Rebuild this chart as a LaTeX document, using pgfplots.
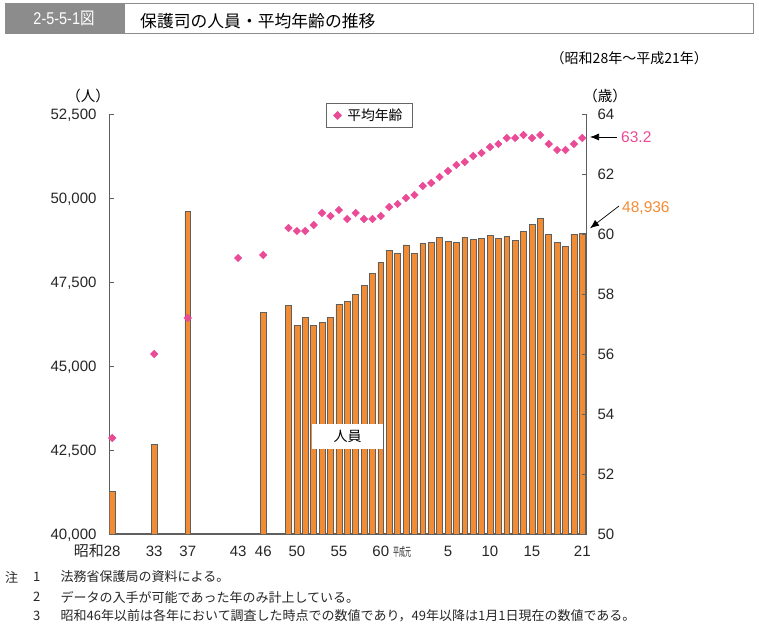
\documentclass[border=0pt]{standalone}
\usepackage{graphicx}
\usepackage{fontspec}
\setmainfont{Liberation Sans}
\newfontfamily\jp{Noto Sans CJK JP}
\usepackage{pgfplots}
\pgfplotsset{compat=1.18}
\usepackage{pgfplotstable}
\usetikzlibrary{arrows.meta}
\definecolor{barorange}{RGB}{242,140,52}
\definecolor{agepink}{RGB}{233,75,150}
\definecolor{axisgray}{RGB}{95,95,95}
\definecolor{titlegray}{RGB}{140,140,140}
\pgfplotsset{agelegend/.style={legend image code/.code={\draw[mark repeat=2,mark phase=2,##1] plot coordinates {(0pt,0pt) (4pt,0pt) (8pt,0pt)};}}}

\pgfplotstableread{
year persons
1953 41260
1958 42670
1962 49600
1971 46586
1974 46815
1975 46211
1976 46438
1977 46220
1978 46309
1979 46448
1980 46845
1981 46924
1982 47142
1983 47390
1984 47767
1985 48075
1986 48442
1987 48343
1988 48601
1989 48343
1990 48640
1991 48670
1992 48829
1993 48711
1994 48681
1995 48818
1996 48770
1997 48800
1998 48889
1999 48809
2000 48848
2001 48749
2002 48997
2003 49205
2004 49383
2005 48919
2006 48681
2007 48550
2008 48919
2009 48936
}\persons

\pgfplotstableread{
year age
1953 53.2
1958 56.0
1962 57.2
1968 59.2
1971 59.3
1974 60.2
1975 60.1
1976 60.1
1977 60.3
1978 60.7
1979 60.6
1980 60.8
1981 60.5
1982 60.7
1983 60.5
1984 60.5
1985 60.6
1986 60.9
1987 61.0
1988 61.2
1989 61.3
1990 61.6
1991 61.7
1992 61.9
1993 62.1
1994 62.3
1995 62.4
1996 62.6
1997 62.7
1998 62.9
1999 63.0
2000 63.2
2001 63.2
2002 63.3
2003 63.2
2004 63.3
2005 63.0
2006 62.8
2007 62.8
2008 63.0
2009 63.2
}\ages

\begin{document}
\begin{tikzpicture}
\useasboundingbox (0,0) rectangle (759pt,628pt);

% title bar
\fill[titlegray] (5pt,594.7pt) rectangle (125pt,624.7pt);
\draw[black!45, line width=0.8pt] (5pt,594.7pt) rectangle (753pt,624.7pt);
\node[white, inner sep=0] at (64pt,609.7pt) {\fontsize{17}{20}\selectfont\scalebox{0.85}[1]{2-5-5-1{\jp 図}}};
\node[anchor=west, inner sep=0] at (140pt,607pt) {\jp\fontsize{16.8}{20}\selectfont 保護司の人員・平均年齢の推移};
\node[anchor=east, inner sep=0] at (708pt,570pt) {\jp\fontsize{14}{17}\selectfont （昭和28年～平成21年）};
\node[inner sep=0] at (88pt,532pt) {\jp\fontsize{14.5}{17}\selectfont （人）};
\node[inner sep=0] at (605pt,532pt) {\jp\fontsize{14.5}{17}\selectfont （歳）};

\begin{axis}[
  at={(109.3pt,94pt)}, anchor=south west,
  scale only axis, width=477.4pt, height=420pt,
  xmin=1952.655, xmax=2009.524, ymin=40000, ymax=52500,
  scaled y ticks=false,
  axis x line*=bottom, axis y line*=left,
  axis line style={draw=axisgray, line width=1.1pt},
  xtick={1953,1958,1962,1968,1971,1975,1980,1985,1989,1993,1998,2003,2009},
  xticklabels={{\makebox[0pt][r]{\jp 昭和}28},33,37,43,46,50,55,60,{\makebox[0pt][r]{\jp\fontsize{12}{12}\selectfont\scalebox{0.5}[1]{平成元}\hspace{3.3pt}}},5,10,15,21},
  xtick style={draw=none},
  ytick={40000,42500,45000,47500,50000,52500},
  yticklabels={{40,000},{42,500},{45,000},{47,500},{50,000},{52,500}},
  tick align=inside, major tick length=5pt,
  ytick style={draw=axisgray, line width=0.9pt},
  tick label style={font=\fontsize{15}{18}\selectfont, text=black!85},
  xticklabel style={inner sep=0pt, text height=10.7pt, text depth=0pt, yshift=-11.7pt},
  yticklabel style={inner sep=0pt, text height=10.7pt, text depth=0pt, xshift=-12.6pt},
]
\addplot[ybar, bar width=0.7, fill=barorange, draw=axisgray, line width=0.6pt] table[x=year, y=persons] {\persons};
\end{axis}

\begin{axis}[
  at={(109.3pt,94pt)}, anchor=south west,
  scale only axis, width=477.4pt, height=420pt,
  xmin=1952.655, xmax=2009.524, ymin=50, ymax=64,
  axis x line=none, axis y line*=right,
  axis line style={draw=axisgray, line width=1.1pt},
  ytick={50,52,54,56,58,60,62,64},
  yticklabels={50,52,54,56,58,60,62,64},
  tick align=inside, major tick length=5pt,
  ytick style={draw=axisgray, line width=0.9pt},
  tick label style={font=\fontsize{15}{18}\selectfont, text=black!85},
  yticklabel style={inner sep=0pt, text height=10.7pt, text depth=0pt, xshift=10.6pt},
  legend style={at={(0.4533,1.0256)}, anchor=north west, draw=black!60, line width=0.8pt,
    fill=white, inner xsep=7.6pt, inner ysep=3.2pt, font=\jp\fontsize{13.8}{16}\selectfont,
    nodes={inner xsep=2pt}, cells={anchor=west}},
]
\addplot[only marks, mark=square*, mark size=2.7pt, color=agepink,
  mark options={rotate=45, fill=agepink, draw=agepink}, agelegend]
  table[x=year, y=age] {\ages};
\addlegendentry{\hspace{4pt}平均年齢}
\end{axis}

% label box for persons
\node[fill=white, minimum width=71pt, minimum height=25pt, inner sep=0] at (347.5pt,191.5pt) {\jp\fontsize{14}{16}\selectfont 人員};

% annotations
\draw[-{Latex[length=9pt,width=7pt]}, line width=0.7pt] (617pt,491pt) -- (590pt,491pt);
\node[anchor=west, inner sep=0, text=agepink, text height=11pt, text depth=0pt] at (621pt,491pt) {\fontsize{15.5}{18}\selectfont 63.2};
\draw[-{Latex[length=9pt,width=7pt]}, line width=0.7pt] (619pt,422pt) -- (590pt,399.7pt);
\node[anchor=west, inner sep=0, text=barorange, text height=11pt, text depth=0pt] at (622pt,421pt) {\fontsize{15.5}{18}\selectfont 48,936};

% notes
\begin{scope}[every node/.style={anchor=west, inner sep=0, font=\jp\fontsize{13}{15}\selectfont, text=black!85}]
\node at (5pt,51pt) {注};
\node at (33pt,51pt) {1};
\node at (60.5pt,51pt) {法務省保護局の資料による。};
\node at (33pt,31pt) {2};
\node at (60.5pt,31pt) {データの入手が可能であった年のみ計上している。};
\node at (33pt,12pt) {3};
\node at (60.5pt,12pt) {昭和46年以前は各年において調査した時点での数値であり，49年以降は1月1日現在の数値である。};
\end{scope}
\end{tikzpicture}
\end{document}
